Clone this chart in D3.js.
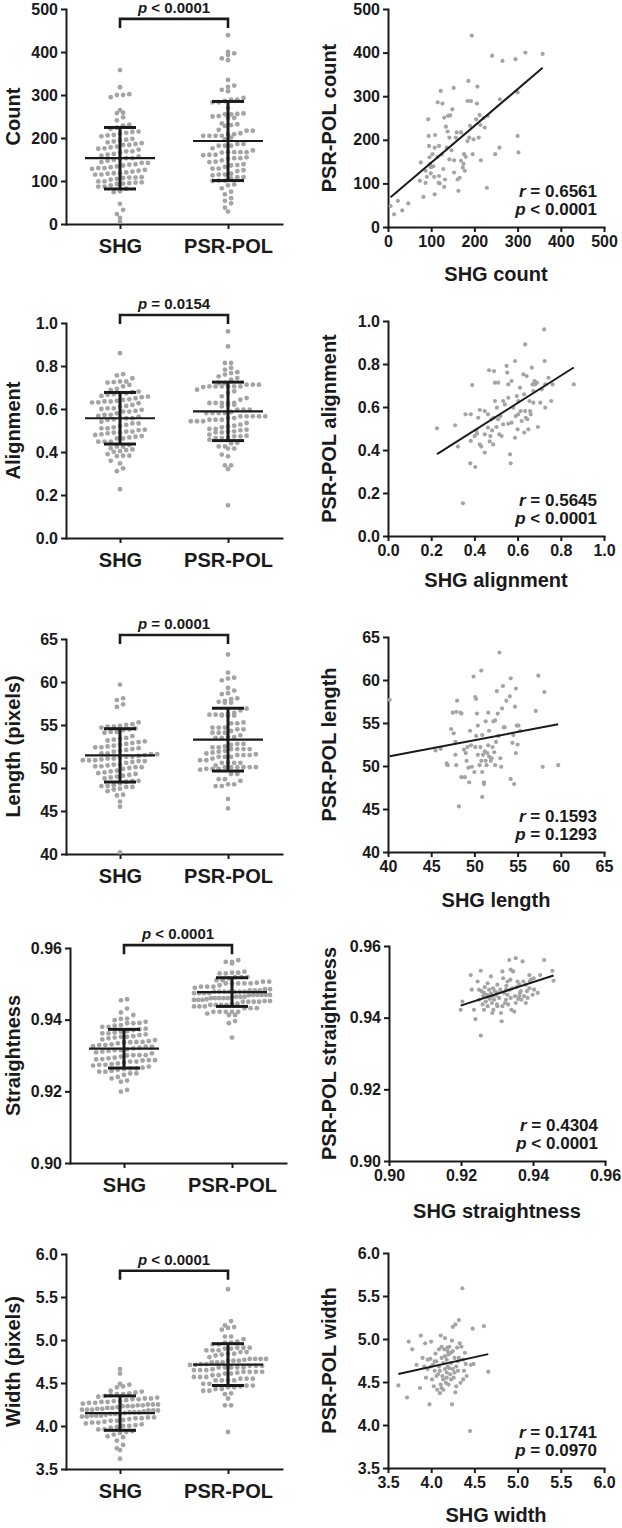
<!DOCTYPE html>
<html><head><meta charset="utf-8">
<script src="https://cdn.jsdelivr.net/npm/d3@7"></script>
<style>body{margin:0;background:#fff;}</style>
</head><body><svg id="c" width="622" height="1528"></svg>
<script>
// ---------------- DATA ----------------
const groups = ["SHG", "PSR-POL"];
const leftTitles = ["Count", "Alignment", "Length (pixels)", "Straightness", "Width (pixels)"];
const rightYTitles = ["PSR-POL count", "PSR-POL alignment", "PSR-POL length", "PSR-POL straightness", "PSR-POL width"];
const rightXTitles = ["SHG count", "SHG alignment", "SHG length", "SHG straightness", "SHG width"];
const axisDomains = [[0, 500], [0, 1], [40, 65], [0.90, 0.96], [3.5, 6.0]];
const axisTicks = [[0,100,200,300,400,500],[0,0.2,0.4,0.6,0.8,1.0],[40,45,50,55,60,65],[0.90,0.92,0.94,0.96],[3.5,4.0,4.5,5.0,5.5,6.0]];
const tickFormats = ["d", ".1f", "d", ".2f", ".1f"];
const shgMeans = [153, 0.557, 51.47, 0.9319, 4.15];
const psrMeans = [193, 0.589, 53.3, 0.9477, 4.714];
const shgSDs = [71.5, 0.12, 3.1, 0.0054, 0.2];
const psrSDs = [92, 0.136, 3.65, 0.0040, 0.243];
const groupP = ["< 0.0001", "= 0.0154", "= 0.0001", "< 0.0001", "< 0.0001"];
const bracketLevels = [477, 1.037, 65.47, 0.9608, 5.806];
const corrR = ["0.6561", "0.5645", "0.1593", "0.4304", "0.1741"];
const corrP = ["< 0.0001", "< 0.0001", "= 0.1293", "< 0.0001", "= 0.0970"];
const fitIntercepts = [63, 0.236, 43.5, 0.6444, 3.785];
const fitSlopes = [0.844, 0.637, 0.19, 0.325, 0.223];

const countSHG = [6,14,23,33,47,74,76,82,87,90,93,94,95,97,99,103,105,107,108,109,115,115,117,118,122,124,126,128,130,132,134,136,138,139,142,144,147,149,152,153,157,159,161,163,166,169,173,175,176,178,180,184,186,188,190,192,194,196,198,204,206,207,210,212,214,215,221,224,229,231,241,248,258,259,265,295,300,300,302,318,358,99,118,169,130,108,87,142,184,153,120,96];
const countPSR = [48,29,60,38,54,106,148,69,101,115,247,209,186,144,123,167,139,115,182,211,286,161,101,117,312,166,283,133,251,109,230,182,219,255,205,256,176,270,319,125,205,217,109,83,113,152,136,145,167,129,161,289,335,205,232,289,439,167,201,247,283,322,205,257,234,153,250,228,90,255,393,167,182,293,381,385,309,209,171,400,397,137,186,217,92,75,129,155,197,153,100,160];

const alignSHG = [0.227,0.311,0.324,0.359,0.383,0.39,0.347,0.381,0.404,0.383,0.401,0.409,0.412,0.425,0.425,0.432,0.448,0.448,0.463,0.468,0.471,0.474,0.479,0.482,0.49,0.491,0.495,0.495,0.502,0.504,0.51,0.515,0.521,0.526,0.533,0.541,0.549,0.552,0.557,0.557,0.565,0.568,0.572,0.572,0.58,0.588,0.591,0.596,0.6,0.603,0.611,0.614,0.619,0.627,0.63,0.635,0.635,0.638,0.642,0.645,0.65,0.655,0.658,0.661,0.666,0.669,0.673,0.678,0.681,0.689,0.694,0.705,0.712,0.723,0.725,0.728,0.743,0.756,0.762,0.86,0.51,0.533,0.463,0.603,0.418,0.673,0.557,0.487,0.631,0.728,0.448,0.588];
const alignPSR = [0.501,0.515,0.416,0.566,0.566,0.702,0.152,0.338,0.321,0.442,0.465,0.491,0.476,0.426,0.586,0.416,0.388,0.473,0.566,0.771,0.44,0.465,0.543,0.491,0.55,0.767,0.713,0.628,0.507,0.597,0.713,0.473,0.558,0.465,0.519,0.612,0.791,0.76,0.705,0.522,0.38,0.338,0.721,0.527,0.597,0.814,0.558,0.651,0.496,0.628,0.69,0.581,0.535,0.752,0.659,0.891,0.581,0.55,0.744,0.543,0.496,0.628,0.581,0.566,0.783,0.705,0.62,0.721,0.705,0.713,0.507,0.62,0.682,0.961,0.814,0.705,0.736,0.628,0.705,0.705,0.543,0.628,0.504,0.566,0.55,0.674,0.643,0.426,0.481,0.597,0.581,0.457];

const lengthSHG = [40.2,46.1,45.5,46.8,46.9,47.3,47.6,47.8,47.8,47.5,48.0,47.9,47.9,48.2,48.4,48.5,48.5,48.8,48.9,49.0,49.1,49.2,49.3,49.4,49.5,49.6,49.7,49.9,50.0,50.1,50.1,50.2,50.2,50.3,50.4,50.4,50.6,50.8,50.7,50.8,50.9,50.9,50.9,51.0,51.1,51.1,51.2,51.3,51.3,51.4,51.5,51.6,51.6,51.7,51.7,51.9,52.0,52.1,52.2,52.3,52.4,52.4,52.5,52.6,52.7,52.8,52.9,53.0,53.1,53.2,53.3,53.4,53.5,53.7,54.1,54.2,54.2,54.4,54.5,54.6,54.7,54.8,54.8,54.9,55.0,55.1,55.3,57.1,57.4,57.9,58.1,59.7];
const lengthPSR = [57.7,52.0,51.8,50.3,50.1,54.3,53.8,51.3,52.8,56.2,57.6,56.3,50.1,45.3,56.2,56.1,48.7,51.9,48.7,51.5,50.6,52.2,49.8,48.1,54.1,52.4,49.9,60.4,49.3,52.2,58.0,57.8,53.5,56.1,51.3,54.7,50.1,61.1,52.2,50.6,46.4,49.3,53.6,51.3,48.1,47.9,51.7,55.2,50.6,50.1,51.5,52.4,56.2,54.1,51.1,50.6,50.9,52.2,55.2,51.6,55.3,50.1,52.8,58.7,56.1,53.5,63.2,50.9,49.9,56.7,59.3,54.5,54.5,57.6,58.1,48.5,60.2,52.7,53.6,47.9,56.9,59.0,51.5,54.7,52.5,54.7,54.1,56.4,60.5,49.9,58.6,50.1];

const straightSHG = [0.9199,0.9204,0.9227,0.9230,0.9236,0.9240,0.9246,0.9250,0.9255,0.9255,0.9257,0.9260,0.9262,0.9264,0.9266,0.9269,0.9272,0.9274,0.9276,0.9278,0.9280,0.9283,0.9283,0.9286,0.9287,0.9289,0.9290,0.9292,0.9294,0.9297,0.9300,0.9301,0.9306,0.9309,0.9311,0.9313,0.9315,0.9317,0.9320,0.9322,0.9325,0.9326,0.9329,0.9331,0.9334,0.9336,0.9337,0.9338,0.9340,0.9343,0.9345,0.9348,0.9350,0.9352,0.9354,0.9357,0.9359,0.9362,0.9364,0.9366,0.9368,0.9371,0.9373,0.9375,0.9380,0.9383,0.9385,0.9390,0.9391,0.9394,0.9399,0.9402,0.9403,0.9413,0.9420,0.9431,0.9454,0.9457,0.9274,0.9287,0.9301,0.9315,0.9325,0.9338,0.9352,0.9362,0.9380,0.9390,0.9264,0.9250,0.9301,0.9329];
const straightPSR = [0.9422,0.9445,0.9519,0.9478,0.9422,0.9396,0.9501,0.9450,0.9531,0.9350,0.9474,0.9437,0.9460,0.9422,0.9485,0.9445,0.9464,0.9432,0.9457,0.9478,0.9452,0.9515,0.9468,0.9441,0.9460,0.9482,0.9422,0.9450,0.9474,0.9462,0.9437,0.9492,0.9455,0.9478,0.9413,0.9390,0.9529,0.9510,0.9469,0.9441,0.9450,0.9489,0.9464,0.9437,0.9561,0.9478,0.9506,0.9455,0.9422,0.9482,0.9529,0.9417,0.9460,0.9566,0.9485,0.9501,0.9452,0.9492,0.9469,0.9474,0.9450,0.9557,0.9501,0.9460,0.9492,0.9474,0.9455,0.9482,0.9501,0.9506,0.9464,0.9510,0.9478,0.9469,0.9519,0.9561,0.9531,0.9503,0.9496,0.9413,0.9469,0.9432,0.9478,0.9534,0.9441,0.9460,0.9441,0.9519,0.9469,0.9478,0.9432,0.9501];

const widthSHG = [3.62,3.72,3.74,3.78,3.83,3.87,3.88,3.90,3.92,3.93,3.94,3.96,3.98,3.99,4.00,4.01,4.02,4.03,4.04,4.05,4.06,4.07,4.08,4.09,4.09,4.10,4.11,4.11,4.12,4.12,4.13,4.14,4.14,4.15,4.16,4.16,4.17,4.18,4.18,4.19,4.19,4.20,4.20,4.21,4.22,4.23,4.23,4.24,4.24,4.25,4.25,4.26,4.27,4.28,4.28,4.29,4.30,4.31,4.32,4.32,4.34,4.35,4.36,4.37,4.38,4.39,4.40,4.41,4.45,4.46,4.48,4.49,4.61,4.66,4.04,4.10,4.14,4.16,4.18,4.19,4.21,4.23,4.25,4.27,4.29,4.31,4.33,3.96,4.00,4.06,4.12,4.37];
const widthPSR = [4.46,4.32,4.97,4.88,4.70,4.43,5.04,4.78,4.68,4.95,4.55,4.65,4.24,4.77,4.97,4.53,4.70,4.45,4.63,4.83,4.74,4.41,4.59,4.68,4.88,4.37,5.04,4.47,4.78,4.91,4.57,4.72,4.41,4.88,4.65,5.01,4.49,4.76,4.61,4.90,4.68,4.47,4.82,4.91,4.59,4.72,4.84,4.24,4.98,4.65,5.14,4.55,4.78,4.38,5.17,4.68,4.90,4.63,5.22,4.78,4.49,4.91,5.59,4.76,4.63,4.84,4.71,4.57,3.93,4.70,5.12,4.71,5.15,4.62,4.74,4.63,4.53,4.80,4.55,4.86,4.66,4.53,4.86,4.61,4.45,4.74,4.95,4.76,4.68,4.57,4.43,4.53];

const shgSeries = [countSHG, alignSHG, lengthSHG, straightSHG, widthSHG];
const psrSeries = [countPSR, alignPSR, lengthPSR, straightPSR, widthPSR];

// ---------------- LAYOUT ----------------
const FONT = "'Liberation Sans', Arial, Helvetica, sans-serif";
const INK = "#1a1a1a";
const DOT = "#a4a4a4";
const L = {
  leftX: [66, 66, 66, 70, 66],
  rightX: [388, 388, 388, 389, 388],
  leftTop: [9, 323, 639, 948, 1254],
  rightTop: [9, 321, 637, 946, 1253],
  rightH: [218, 215, 215, 215, 215],
  w: 216, h: 215,
  xTitleDy: [54, 51, 55, 57, 54],
  swarmBin: 6.5, swarmDx: 6.2, swarmHalf: 38
};

const svg = d3.select("#c");

function styleAxis(g, size) {
  g.attr("font-family", FONT).attr("font-size", size).attr("font-weight", "bold");
  g.select(".domain").attr("stroke", INK).attr("stroke-width", 2).attr("stroke-linecap", "square");
  g.selectAll(".tick line").attr("stroke", INK).attr("stroke-width", 2);
  g.selectAll(".tick text").attr("fill", INK);
}

// bin values into horizontal rows and spread each row symmetrically around the category centre
function swarm(values, y, cx) {
  const pts = values.map(v => ({v, py: y(v)}));
  const bins = d3.group(pts, p => Math.floor(p.py / L.swarmBin));
  const out = [];
  for (const [, arr] of bins) {
    arr.sort((a, b) => a.v - b.v);
    const k = arr.length;
    const dx = k > 1 ? Math.min(L.swarmDx, 2 * L.swarmHalf / (k - 1)) : 0;
    arr.forEach((p, i) => out.push({x: cx + (i - (k - 1) / 2) * dx, y: p.py}));
  }
  return out;
}

function richText(g, x, y, anchor, size, ital, rest) {
  const t = g.append("text").attr("x", x).attr("y", y).attr("text-anchor", anchor)
    .attr("font-family", FONT).attr("font-size", size).attr("font-weight", "bold").attr("fill", INK);
  t.append("tspan").attr("font-style", "italic").text(ital);
  t.append("tspan").text(" " + rest);
  return t;
}

for (let i = 0; i < 5; i++) {
  const fmt = d3.format(tickFormats[i]);
  // ---------- left: dot plot ----------
  {
    const lx = L.leftX[i], top = L.leftTop[i], bot = top + L.h;
    const y = d3.scaleLinear().domain(axisDomains[i]).range([bot, top]);
    const x = d3.scalePoint().domain(groups).range([lx, lx + L.w]).padding(0.5);
    const g = svg.append("g");
    const ya = g.append("g").attr("transform", `translate(${lx},0)`)
      .call(d3.axisLeft(y).tickValues(axisTicks[i]).tickFormat(fmt).tickSize(5).tickSizeOuter(0).tickPadding(3));
    styleAxis(ya, 16);
    const xa = g.append("g").attr("transform", `translate(0,${bot})`)
      .call(d3.axisBottom(x).tickSize(5).tickSizeOuter(0).tickPadding(10));
    styleAxis(xa, 20);

    const series = [shgSeries[i], psrSeries[i]];
    const means = [shgMeans[i], psrMeans[i]];
    const sds = [shgSDs[i], psrSDs[i]];
    series.forEach((vals, j) => {
      const cx = x(groups[j]);
      const pts = swarm(vals, y, cx);
      g.append("g").selectAll("circle").data(pts).join("circle")
        .attr("cx", d => d.x).attr("cy", d => d.y).attr("r", 2.4).attr("fill", DOT);
      const m = means[j], s = sds[j];
      g.append("line").attr("x1", cx - 35).attr("x2", cx + 35).attr("y1", y(m)).attr("y2", y(m))
        .attr("stroke", INK).attr("stroke-width", 2.2);
      g.append("line").attr("x1", cx).attr("x2", cx).attr("y1", y(m - s)).attr("y2", y(m + s))
        .attr("stroke", INK).attr("stroke-width", 3);
      [m - s, m + s].forEach(v => g.append("line").attr("x1", cx - 16).attr("x2", cx + 16)
        .attr("y1", y(v)).attr("y2", y(v)).attr("stroke", INK).attr("stroke-width", 3));
    });
    // significance bracket
    const yb = y(bracketLevels[i]);
    const x1 = x(groups[0]), x2 = x(groups[1]);
    g.append("path").attr("d", `M${x1},${yb + 9}V${yb}H${x2}V${yb + 9}`)
      .attr("fill", "none").attr("stroke", INK).attr("stroke-width", 2.6);
    richText(g, (x1 + x2) / 2, yb - 6, "middle", 15, "p", groupP[i]);
    // y title
    g.append("text").attr("transform", `translate(20,${top + L.h / 2}) rotate(-90)`)
      .attr("text-anchor", "middle").attr("font-family", FONT).attr("font-size", 20)
      .attr("font-weight", "bold").attr("fill", INK).text(leftTitles[i]);
  }
  // ---------- right: scatter ----------
  {
    const rx = L.rightX[i], top = L.rightTop[i], bot = top + L.rightH[i];
    const y = d3.scaleLinear().domain(axisDomains[i]).range([bot, top]);
    const x = d3.scaleLinear().domain(axisDomains[i]).range([rx, rx + L.w]);
    const g = svg.append("g");
    const ya = g.append("g").attr("transform", `translate(${rx},0)`)
      .call(d3.axisLeft(y).tickValues(axisTicks[i]).tickFormat(fmt).tickSize(5).tickSizeOuter(0).tickPadding(3));
    styleAxis(ya, 16);
    const xa = g.append("g").attr("transform", `translate(0,${bot})`)
      .call(d3.axisBottom(x).tickValues(axisTicks[i]).tickFormat(fmt).tickSize(5).tickSizeOuter(0).tickPadding(4));
    styleAxis(xa, 16);

    const xs = shgSeries[i], ys = psrSeries[i];
    g.append("g").selectAll("circle").data(xs.map((v, k) => [v, ys[k]])).join("circle")
      .attr("cx", d => x(d[0])).attr("cy", d => y(d[1])).attr("r", 2.1).attr("fill", DOT);
    const [xmin, xmax] = d3.extent(xs);
    const f = v => fitIntercepts[i] + fitSlopes[i] * v;
    g.append("line").attr("x1", x(xmin)).attr("y1", y(f(xmin))).attr("x2", x(xmax)).attr("y2", y(f(xmax)))
      .attr("stroke", INK).attr("stroke-width", 2);

    richText(g, rx + 209, bot - 30, "end", 17, "r", "= " + corrR[i]);
    richText(g, rx + 209, bot - 12, "end", 17, "p", corrP[i]);

    g.append("text").attr("transform", `translate(336,${top + L.rightH[i] / 2}) rotate(-90)`)
      .attr("text-anchor", "middle").attr("font-family", FONT).attr("font-size", 20)
      .attr("font-weight", "bold").attr("fill", INK).text(rightYTitles[i]);
    g.append("text").attr("x", rx + L.w / 2).attr("y", bot + L.xTitleDy[i])
      .attr("text-anchor", "middle").attr("font-family", FONT).attr("font-size", 20)
      .attr("font-weight", "bold").attr("fill", INK).text(rightXTitles[i]);
  }
}
</script></body></html>
